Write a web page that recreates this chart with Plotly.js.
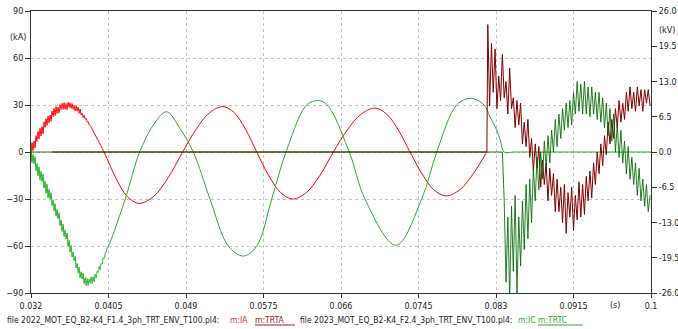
<!DOCTYPE html>
<html><head><meta charset="utf-8">
<script src="https://cdn.plot.ly/plotly-3.0.1.min.js"></script>
<style>html,body{margin:0;padding:0;background:#fff;overflow:hidden}#chart{width:678px;height:329px}</style>
</head><body><div id="chart"></div>
<script>
// ---------- data ----------
const xTickVals = [0.032,0.0405,0.049,0.0575,0.066,0.0745,0.083,0.0915,0.1];
const xTickText = ['0.032','0.0405','0.049','0.0575','0.066','0.0745','0.083','0.0915','0.1'];
const yTickVals = [-90,-60,-30,0,30,60,90];
const y2TickVals = [-26,-19.5,-13,-6.5,0,6.5,13,19.5,26];
const y2TickText = ['-26.0','-19.5','-13.0','-6.5','0.0','6.5','13.0','19.5','26.0'];

const legendFile1 = 'file 2022_MOT_EQ_B2-K4_F1.4_3ph_TRT_ENV_T100.pl4:';
const legendFile2 = 'file 2023_MOT_EQ_B2-K4_F2.4_3ph_TRT_ENV_T100.pl4:';

// sample times of the noisy first part of both currents
const tNoise = [0.03200,0.03211,0.03222,0.03233,0.03244,0.03255,0.03266,0.03277,0.03288,0.03299,
  0.03310,0.03321,0.03332,0.03343,0.03354,0.03365,0.03376,0.03387,0.03398,0.03409,
  0.03420,0.03431,0.03442,0.03453,0.03464,0.03475,0.03486,0.03497,0.03508,0.03519,
  0.03530,0.03541,0.03552,0.03563,0.03574,0.03585,0.03596,0.03607,0.03618,0.03629,
  0.03640,0.03651,0.03662,0.03673,0.03684,0.03695,0.03706,0.03717,0.03728,0.03739,
  0.03750,0.03761,0.03772,0.03783,0.03794,0.03805,0.03816,0.03827,0.03838,0.03849,
  0.03860,0.03871,0.03882,0.03893,0.03904,0.03915,0.03926,0.03937,0.03948,0.03959,
  0.03970,0.03981,0.03992,0.04003,0.04014,0.04025,0.04036,0.04047];

// IA (kA) - phase A current
const vIAnoise = [-6,6.0,0.9,7.0,2.5,10.4,6.7,13.1,8.3,15.4,
  10.2,16.2,11.6,19.3,15.7,21.2,17.0,23.0,18.5,23.6,
  19.6,26.1,22.6,27.8,23.3,29.0,24.6,28.6,25.0,30.2,
  27.1,31.1,27.2,31.6,27.3,30.9,27.0,31.8,28.5,31.4,
  27.8,31.0,27.2,29.7,26.1,29.5,26.2,28.7,24.7,27.4,
  23.7,24.7,22.0,23.5,21.0,21.5,19.1,19.4,17.3,16.9];
const tIAsmooth = [0.03869,0.04001,0.04129,0.04256,0.04385,0.04545,0.04704,0.04864,
  0.05011,0.05159,0.05306,0.05429,0.05553,0.05676,
  0.05807,0.05939,0.06070,0.06218,0.06368,0.06516,
  0.06668,0.06821,0.06973,0.07101,0.07229,0.07357,
  0.07489,0.07620,0.07752,0.07901,0.08049,0.08198];
const vIAsmooth = [14.75,0,-16.4,-28.4,-32.8,-28.4,-16.4,0,
  14.5,25.1,29,25.1,14.5,0,
  -15,-26,-30,-26,-15,0,
  14,24.2,28,24.2,14,0,
  -14,-24.2,-28,-24.2,-14,0];

// IC (kA) - phase C current
const vICnoise = [3,-6.8,-1.4,-7.6,-3.0,-12.0,-7.4,-15.2,-9.4,-18.0,
  -12.5,-18.7,-14.1,-23.1,-18.5,-26.3,-20.5,-29.2,-23.8,-30.0,
  -25.9,-34.2,-30.5,-37.7,-33.0,-41.0,-36.7,-42.5,-38.8,-47.1,
  -43.5,-50.7,-46.0,-54.0,-49.7,-55.5,-51.8,-60.1,-56.4,-63.8,
  -59.7,-67.0,-63.8,-69.3,-66.6,-74.0,-71.1,-77.4,-73.5,-80.3,
  -76.5,-81.1,-77.5,-83.9,-80.1,-85.3,-80.7,-85.3,-81.1,-83.8,
  -79.8,-84.0,-79.7,-82.9,-78.2,-80.3,-76.1,-77.0,-73.0,-75.0,
  -71.2,-71.5,-67.6,-67.9,-64.7,-63.6,-60.9,-60.2];
const tICsmooth = [0.04234,0.04392,0.04557,0.04688,0.04834,0.04980,0.05163,0.05364,0.05529,0.05676,
  0.05840,0.05997,0.06224,0.06351,0.06450,0.06691,0.06863,0.07203,0.07485,0.07650,
  0.07869,0.08023,0.08169,0.08234,0.08308,0.08350,0.08388,0.08500,0.10000];
const vICsmooth = [-30,0,18.5,25.7,15,0,-30,-60,-66.4,-60,
  -30,0,30,32.8,30,0,-30,-59.6,-30,0,
  30,34.3,30,22.5,14,7,0,0,0];

// recovery voltages (kV), sampled after current interruption
const tPost = [0.0821,0.0823,0.0825,0.0827,0.0829,0.0831,0.0833,0.0835,0.0837,0.0839,
  0.0841,0.0843,0.0845,0.0847,0.0849,0.0851,0.0853,0.0855,0.0857,0.0859,
  0.0861,0.0863,0.0865,0.0867,0.0869,0.0871,0.0873,0.0875,0.0877,0.0879,
  0.0881,0.0883,0.0885,0.0887,0.0889,0.0891,0.0893,0.0895,0.0897,0.0899,
  0.0901,0.0903,0.0905,0.0907,0.0909,0.0911,0.0913,0.0915,0.0917,0.0919,
  0.0921,0.0923,0.0925,0.0927,0.0929,0.0931,0.0933,0.0935,0.0937,0.0939,
  0.0941,0.0943,0.0945,0.0947,0.0949,0.0951,0.0953,0.0955,0.0957,0.0959,
  0.0961,0.0963,0.0965,0.0967,0.0969,0.0971,0.0973,0.0975,0.0977,0.0979,
  0.0981,0.0983,0.0985,0.0987,0.0989,0.0991,0.0993,0.0995,0.0997,0.0999];
const tTRTApre = [0.0343,0.0820];
const vTRTApre = [0,0];
const vTRTA = [23.5,8.5,20,11,19,8,14,9.5,18,10,
  13,7,15.5,8,10,4.5,9.5,5,9,1.5,
  5.5,1,6,-1,2.5,-3.5,1.5,-3,1,-6.5,
  -1.5,-6,-2,-9,-3,-8,-4,-11,-5,-11,
  -6.5,-13,-6,-15,-7.5,-12,-6.5,-14.5,-8,-12.5,
  -5.5,-12,-6,-11.5,-4.5,-9,-3.5,-8.5,-2,-6,
  0,-4,1.5,-2.5,3,-0.5,5.5,1.5,6,2.5,
  8,4.5,9.5,5.5,9,6,11,7.5,12,8,
  11,7.5,12,8.5,11.5,7.5,11.5,9,11.5,8.5];
const tTRTCpre = [0.0320];
const vTRTCpre = [0];
const vTRTC = [0,0,0,0,0,0,0,0,0,-9,
  -24,-12,-27,-10,-22,-8,-26,-12,-21,-9,
  -18,-6,-16,-5,-13,-3,-9,-1,-7,0,
  -5,2,-3,3,-2,4,0,6,1,7,
  2.5,8,4,9,4.5,9.5,5,11,7,13,
  7.5,12.5,7,13,7,12,6.5,12,7,11,
  6,11,5.5,10,4.5,9,3,8,2,7,
  0,5,-1,4,-2,2,-4,1,-5,-1,
  -6,-2,-8,-3,-9,-5,-10,-6,-11,-8];

// ---------- styling / layout ----------
const FAM = "'DejaVu Sans Condensed','Liberation Sans Narrow',Roboto,'Liberation Sans',sans-serif";
function fitSize(txt, target){
  const c = document.createElement('canvas').getContext('2d');
  c.font = '20px ' + FAM;
  return 20 * target / c.measureText(txt).width;
}
const tickSize = Math.max(7, Math.min(11, fitSize('0.0405', 28)));
const legSize = Math.max(7, Math.min(11, fitSize(legendFile1, 213)));

const L = 31, R = 651, T = 11, B = 293;
const px = x => (x - L) / (R - L);
const py = y => (B - y) / (B - T);

const COL_IA = '#ff0000', COL_TRTA = '#800000', COL_IC = '#22b022', COL_TRTC = 'rgba(0,105,0,0.86)';

const traces = [
  {x: tNoise.slice(0, vIAnoise.length).concat(tIAsmooth), y: vIAnoise.concat(vIAsmooth), type: 'scatter', mode: 'lines', name: 'm:IA',
   line: {color: COL_IA, width: 1, shape: 'spline', smoothing: 1}},
  {x: tNoise.slice(0, vICnoise.length).concat(tICsmooth), y: vICnoise.concat(vICsmooth), type: 'scatter', mode: 'lines', name: 'm:IC',
   line: {color: COL_IC, width: 1, shape: 'spline', smoothing: 1}},
  {x: tTRTApre.concat(tPost), y: vTRTApre.concat(vTRTA), type: 'scatter', mode: 'lines', name: 'm:TRTA', yaxis: 'y2',
   line: {color: COL_TRTA, width: 1}},
  {x: tTRTCpre.concat(tPost), y: vTRTCpre.concat(vTRTC), type: 'scatter', mode: 'lines', name: 'm:TRTC', yaxis: 'y2',
   line: {color: COL_TRTC, width: 1}}
];

const axCol = '#333';
const tickFont = {family: FAM, size: tickSize, color: '#222'};
const legY = py(319.5);
const pieces = [
  {text: legendFile1, x: 7, color: '#222'},
  {text: 'm:IA', x: 230, color: '#ee1c1c'},
  {text: 'm:TRTA', x: 255, color: '#a41818'},
  {text: legendFile2, x: 300, color: '#222'},
  {text: 'm:IC', x: 518, color: '#2aaa2a'},
  {text: 'm:TRTC', x: 538, color: '#2aaa2a'}
];
const annotations = pieces.map(p => ({
  xref: 'paper', yref: 'paper', x: px(p.x - 2), y: legY, xanchor: 'left', yanchor: 'middle',
  text: p.text, showarrow: false, font: {family: FAM, size: legSize, color: p.color}
}));
annotations.push(
  {xref: 'paper', yref: 'paper', x: px(18), y: py(37), text: '(kA)', showarrow: false, xanchor: 'center', yanchor: 'middle', font: tickFont},
  {xref: 'paper', yref: 'paper', x: px(657), y: py(30), text: '(kV)', showarrow: false, xanchor: 'left', yanchor: 'middle', font: tickFont},
  {xref: 'paper', yref: 'paper', x: px(615), y: py(305), text: '(s)', showarrow: false, xanchor: 'center', yanchor: 'middle', font: tickFont}
);
const shapes = [
  {type: 'line', xref: 'paper', yref: 'paper', x0: px(255), x1: px(295), y0: py(325), y1: py(325), line: {color: '#a41818', width: 1}},
  {type: 'line', xref: 'paper', yref: 'paper', x0: px(538), x1: px(583), y0: py(325), y1: py(325), line: {color: '#2aaa2a', width: 1}}
];

const layout = {
  width: 678, height: 329,
  margin: {l: L, r: 678 - R, t: T, b: 329 - B, pad: 0},
  paper_bgcolor: '#fff', plot_bgcolor: '#fff',
  showlegend: false,
  xaxis: {range: [0.032, 0.1], tickmode: 'array', tickvals: xTickVals, ticktext: xTickText,
    ticks: 'outside', ticklen: 4, tickcolor: axCol, showline: true, linecolor: axCol, linewidth: 1, mirror: true,
    showgrid: true, gridcolor: '#c4c4c4', griddash: '3px,3px', gridwidth: 1, zeroline: false, tickfont: tickFont},
  yaxis: {range: [-90, 90], tickmode: 'array', tickvals: yTickVals,
    ticks: 'outside', ticklen: 5, tickcolor: axCol, showline: true, linecolor: axCol, linewidth: 1,
    showgrid: true, gridcolor: '#c4c4c4', griddash: '3px,3px', gridwidth: 1, zeroline: false, tickfont: tickFont},
  yaxis2: {range: [-26, 26], overlaying: 'y', side: 'right', tickmode: 'array', tickvals: y2TickVals, ticktext: y2TickText,
    ticks: 'outside', ticklen: 5, tickcolor: axCol, showline: true, linecolor: axCol, linewidth: 1,
    showgrid: false, zeroline: false, tickfont: tickFont},
  annotations: annotations,
  shapes: shapes
};

Plotly.newPlot('chart', traces, layout, {staticPlot: true, displayModeBar: false});
</script></body></html>
